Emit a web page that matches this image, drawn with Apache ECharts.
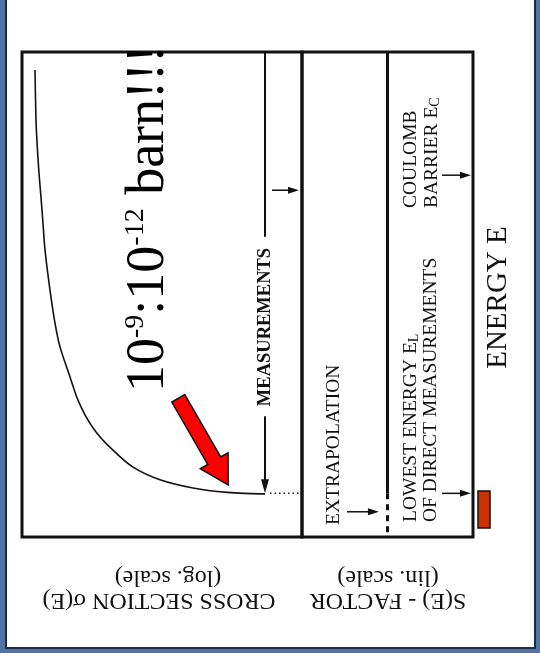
<!DOCTYPE html>
<html><head><meta charset="utf-8">
<script src="https://cdn.jsdelivr.net/npm/echarts@6/dist/echarts.min.js"></script>
<style>html,body{margin:0;padding:0;background:#5074a5}#c{width:540px;height:653px}</style>
</head><body><div id="c"></div>
<script>
// ---- data (energy axis 0..100 arbitrary units, cross section in barn on log scale)
const curveEnergy = [96.3, 86.0, 80.4, 75.1, 70.9, 65.4, 59.2, 50.9, 44.1, 39.2, 33.0, 28.7, 25.2, 21.4, 17.9, 14.4, 11.8, 10.1, 9.2, 8.9, 8.9];
const curveSigma  = [0.249, 0.224, 0.195, 0.163, 0.136, 0.109, 0.0855, 0.0501, 0.0294, 0.0172, 5.90e-3, 2.79e-3, 1.19e-3, 3.30e-4, 5.96e-5, 7.01e-6, 3.92e-7, 1.15e-8, 3.03e-10, 8.91e-12, 5.22e-12];
const extrapSigma = [3.06e-12, 1.24e-13];
const lowestEnergy = 9.0;    // E_L
const coulombEnergy = 74.6;  // E_C
const sFactor = 5.0;
const sEnergyMeasured = [100, 9.0];
const sEnergyExtrap = [9.0, 0];
const measSigma = 5.22e-12;
const measEnergyTop = [100, 61.9];
const measEnergyBottom = [24.9, 9.0];
const sigmaPanelArrow = [2.47e-12, 1.38e-13]; // at energy 71.5
const sigmaPanelArrowEnergy = 71.5;
const extrapArrowS = [7.37, 5.5];
const extrapArrowEnergy = 5.2;
const markerArrowS = [1.81, 0.12];

const FONT = "'Liberation Serif','Times New Roman',serif";
const chart = echarts.init(document.getElementById('c'));
const option = {
  backgroundColor: '#5074a5',
  animation: false,
  grid: [
    {left: 22, top: 52, width: 280, height: 485, show: true, borderColor: '#111', borderWidth: 3, backgroundColor: 'transparent'},
    {left: 302, top: 52, width: 171, height: 485, show: true, borderColor: '#111', borderWidth: 3, backgroundColor: 'transparent'}
  ],
  xAxis: [
    {gridIndex: 0, type: 'log', logBase: 10, min: 1e-13, max: 1, inverse: true, show: false},
    {gridIndex: 1, type: 'value', min: 0, max: 10, inverse: true, show: false}
  ],
  yAxis: [
    {gridIndex: 0, type: 'value', min: 0, max: 100, show: false},
    {gridIndex: 1, type: 'value', min: 0, max: 100, show: false}
  ],
  series: [
    {type: 'line', xAxisIndex: 0, yAxisIndex: 0, data: curveSigma.map((s, i) => [s, curveEnergy[i]]),
     smooth: 0.3, showSymbol: false, lineStyle: {color: '#111', width: 1.6}, z: 3},
    {type: 'line', xAxisIndex: 0, yAxisIndex: 0, data: extrapSigma.map(s => [s, lowestEnergy]),
     showSymbol: false, lineStyle: {color: '#222', width: 1.5, type: [1.5, 3]}},
    {type: 'line', xAxisIndex: 0, yAxisIndex: 0, data: measEnergyTop.map(e => [measSigma, e]),
     showSymbol: false, lineStyle: {color: '#111', width: 2}},
    {type: 'line', xAxisIndex: 1, yAxisIndex: 1, data: sEnergyMeasured.map(e => [sFactor, e]),
     showSymbol: false, lineStyle: {color: '#111', width: 3}},
    {type: 'line', xAxisIndex: 1, yAxisIndex: 1, data: sEnergyExtrap.map(e => [sFactor, e]),
     showSymbol: false, lineStyle: {color: '#111', width: 3, type: [6, 5]}}
  ]
};
chart.setOption(option);

function P(g, x, y) { return chart.convertToPixel({gridIndex: g}, [x, y]); }
function arrow(p0, p1, headLen, headW, lw) {
  const dx = p1[0] - p0[0], dy = p1[1] - p0[1], L = Math.hypot(dx, dy);
  const ux = dx / L, uy = dy / L, nx = -uy, ny = ux;
  const bx = p1[0] - ux * headLen, by = p1[1] - uy * headLen;
  return [
    {type: 'line', shape: {x1: p0[0], y1: p0[1], x2: bx + ux * 2, y2: by + uy * 2}, style: {stroke: '#111', lineWidth: lw}, z: 5},
    {type: 'polygon', shape: {points: [[p1[0], p1[1]], [bx + nx * headW / 2, by + ny * headW / 2], [bx - nx * headW / 2, by - ny * headW / 2]]},
     style: {fill: '#111'}, z: 5}
  ];
}
function txt(x, y, rot, text, size, align, extra) {
  return Object.assign({type: 'text', x: x, y: y, rotation: rot, z: 10,
    style: Object.assign({text: text, fontFamily: FONT, fontSize: size, fill: '#111', align: align, verticalAlign: 'middle'}, extra || {})});
}
const up = Math.PI / 2, flip = Math.PI;
const subRich = {sub: {fontFamily: FONT, fontSize: 14, lineHeight: 6, verticalAlign: 'bottom', fill: '#111'}};

// red block arrow (annotation)
const T = [178.3, 398.3], U = [0.4985, 0.867], N = [0.867, -0.4985];
function at(a, b) { return [T[0] + U[0] * a + N[0] * b, T[1] + U[1] * a + N[1] * b]; }
const redArrow = [at(0, 7.5), at(72, 7.5), at(72, 16), at(100, 0), at(72, -16), at(72, -7.5), at(0, -7.5)];

const g = [
  {type: 'rect', shape: {x: 6, y: -10, width: 529, height: 658}, style: {fill: '#fff', stroke: '#1d2c45', lineWidth: 2}, z: -100},
  ...arrow(P(0, measSigma, measEnergyBottom[0]), P(0, measSigma, measEnergyBottom[1]), 14, 8, 2),
  ...arrow(P(0, sigmaPanelArrow[0], sigmaPanelArrowEnergy), P(0, sigmaPanelArrow[1], sigmaPanelArrowEnergy), 11, 7, 1.5),
  ...arrow(P(1, extrapArrowS[0], extrapArrowEnergy), P(1, extrapArrowS[1], extrapArrowEnergy), 11, 7, 1.5),
  ...arrow(P(1, markerArrowS[0], coulombEnergy), P(1, markerArrowS[1], coulombEnergy), 11, 7, 1.5),
  ...arrow(P(1, markerArrowS[0], lowestEnergy), P(1, markerArrowS[1], lowestEnergy), 11, 7, 1.5),
  {type: 'polygon', shape: {points: redArrow}, style: {fill: '#ff0000', stroke: '#111', lineWidth: 1.5}, z: 8},
  {type: 'rect', shape: {x: 478, y: 491, width: 12, height: 37}, style: {fill: '#cc3300', stroke: '#111', lineWidth: 1.5}, z: 8},
  txt(149, 392, up, '{a|10}{s|-9}{a|:10}{s|-12}{a| barn!!!}', 54, 'left', {
    rich: {a: {fontFamily: FONT, fontSize: 54, lineHeight: 54, fill: '#000'},
           s: {fontFamily: FONT, fontSize: 28, lineHeight: 36, verticalAlign: 'top', fill: '#000'}}}),
  txt(265, 327, up, 'MEASUREMENTS', 18.5, 'center', {fontWeight: 'bold'}),
  txt(334, 525, up, 'EXTRAPOLATION', 19.5, 'left'),
  txt(411, 522, up, 'LOWEST ENERGY E{sub|L}', 19.5, 'left', {rich: subRich}),
  txt(431, 522, up, 'OF DIRECT MEASUREMENTS', 19.5, 'left'),
  txt(411, 208, up, 'COULOMB', 19.5, 'left'),
  txt(432, 208, up, 'BARRIER E{sub|C}', 19.5, 'left', {rich: subRich}),
  txt(498, 297.5, up, 'ENERGY E', 29, 'center'),
  txt(159, 600, flip, 'CROSS SECTION σ(E)', 24, 'center'),
  txt(168, 577, flip, '(log. scale)', 24, 'center'),
  txt(388, 600, flip, 'S(E) - FACTOR', 24, 'center'),
  txt(388, 577, flip, '(lin. scale)', 24, 'center')
];
chart.setOption({graphic: g});
</script></body></html>
